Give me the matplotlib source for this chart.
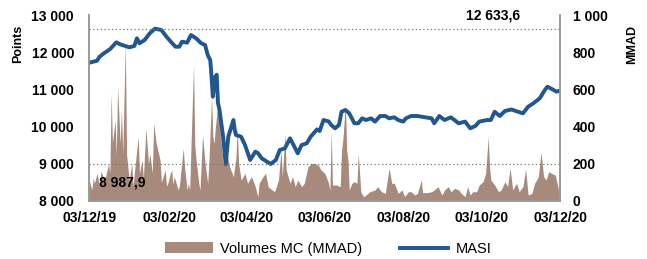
import matplotlib
matplotlib.use("Agg")
import matplotlib.pyplot as plt
import matplotlib.dates as mdates
from matplotlib.ticker import FuncFormatter
import pandas as pd

plt.rcParams['font.family'] = ['Liberation Sans', 'DejaVu Sans']

start = pd.Timestamp('2019-12-03')

# MASI (points) - days since 03/12/19
masi_day = [0, 6, 8, 12, 16, 21, 24, 28, 31, 35, 37, 39, 43, 47, 51, 56, 60, 64,
            67, 70, 72, 76, 79, 83, 87, 90, 92, 94, 95, 96, 98, 99, 100, 101, 104,
            106, 108, 112, 113, 114, 118, 121, 125, 129, 131, 134, 138, 141, 145,
            148, 152, 156, 158, 162, 165, 169, 172, 177, 179, 182, 186, 188, 191,
            194, 196, 199, 202, 206, 209, 212, 215, 219, 222, 226, 230, 233, 237,
            240, 244, 246, 250, 255, 261, 266, 268, 272, 276, 281, 287, 292, 296,
            300, 303, 309, 312, 315, 319, 323, 328, 333, 337, 341, 345, 350, 354,
            356, 360, 363, 366]
masi_val = [11718, 11771, 11879, 11987, 12078, 12266, 12212, 12167, 12132, 12167,
            12374, 12240, 12328, 12508, 12634, 12597, 12417, 12257, 12148, 12148,
            12283, 12257, 12462, 12374, 12240, 12194, 11925, 11790, 11341, 10804,
            11341, 11395, 10626, 10492, 9728, 8988, 9728, 10177, 9909, 9774, 9728,
            9505, 9102, 9325, 9290, 9147, 9057, 8995, 9102, 9371, 9416, 9685, 9551,
            9282, 9505, 9551, 9728, 9925, 9880, 10177, 10140, 10043, 9954, 10043,
            10400, 10446, 10357, 10089, 10089, 10223, 10177, 10223, 10134, 10285,
            10285, 10223, 10250, 10177, 10134, 10223, 10285, 10285, 10250, 10223,
            10089, 10285, 10177, 10250, 10089, 10134, 9954, 10017, 10134, 10177,
            10177, 10400, 10285, 10420, 10460, 10400, 10357, 10535, 10625, 10760,
            10984, 11073, 11000, 10940, 10970]

# Volumes MC (MMAD) - days since 03/12/19
vol_day = [0, 2, 3, 4, 6, 8, 9, 12, 15, 16, 17, 18, 20, 21, 22, 24, 25, 26, 28,
           29, 30, 31, 33, 34, 35, 38, 39, 41, 42, 44, 46, 47, 49, 50, 52, 55, 56,
           59, 60, 61, 63, 64, 65, 66, 69, 70, 73, 74, 76, 77, 78, 81, 82, 83, 85,
           86, 88, 90, 92, 93, 95, 96, 97, 98, 100, 101, 103, 104, 107, 109, 112,
           114, 115, 116, 118, 121, 123, 126, 129, 131, 132, 135, 137, 139, 142,
           144, 147, 149, 150, 152, 153, 156, 158, 160, 162, 165, 167, 170, 173,
           175, 178, 180, 183, 186, 187, 188, 189, 192, 195, 196, 197, 199, 200,
           201, 202, 204, 206, 208, 209, 211, 213, 215, 218, 222, 224, 227, 230,
           233, 235, 237, 240, 243, 245, 248, 250, 253, 255, 258, 259, 263, 266,
           268, 271, 274, 276, 279, 281, 284, 287, 289, 292, 294, 296, 298, 301,
           303, 306, 308, 310, 311, 312, 315, 318, 320, 323, 325, 327, 329, 332,
           334, 337, 339, 341, 344, 346, 349, 351, 353, 355, 357, 359, 362, 365, 366]
vol_val = [110, 59, 124, 95, 149, 77, 160, 110, 200, 150, 579, 312, 435, 250, 615,
           310, 489, 256, 850, 250, 180, 110, 200, 80, 150, 346, 150, 220, 120, 391,
           200, 256, 150, 418, 310, 220, 100, 167, 80, 95, 150, 167, 90, 131, 60, 80,
           283, 185, 60, 95, 60, 735, 300, 220, 100, 59, 355, 200, 95, 220, 561, 346,
           310, 400, 525, 435, 274, 202, 256, 185, 131, 238, 400, 202, 113, 149, 95,
           131, 77, 23, 95, 131, 149, 77, 59, 50, 113, 274, 131, 364, 167, 95, 131,
           77, 113, 77, 95, 185, 202, 202, 193, 167, 149, 95, 59, 382, 86, 86, 77,
           274, 328, 525, 274, 220, 59, 95, 104, 95, 256, 50, 23, 32, 50, 59, 77, 50,
           41, 176, 95, 95, 41, 59, 23, 50, 50, 32, 41, 113, 45, 45, 50, 59, 77, 32,
           59, 77, 50, 68, 59, 41, 23, 77, 32, 50, 50, 86, 104, 149, 346, 185, 113,
           86, 50, 59, 104, 77, 176, 59, 95, 50, 77, 172, 32, 41, 95, 131, 265, 131,
           113, 158, 149, 140, 50, 149]

masi_max = 12633.6
masi_min = 8987.9

x_ticks = ['2019-12-03', '2020-02-03', '2020-04-03', '2020-06-03',
           '2020-08-03', '2020-10-03', '2020-12-03']

masi_dates = start + pd.to_timedelta(masi_day, unit='D')
vol_dates = start + pd.to_timedelta(vol_day, unit='D')


def fmt_space(v, pos=None):
    return '{:,.0f}'.format(v).replace(',', ' ')


fig = plt.figure(figsize=(6.47, 2.59), dpi=100)
ax1 = fig.add_axes([0.138, 0.224, 0.728, 0.718])
ax2 = ax1.twinx()
ax1.set_zorder(ax2.get_zorder() + 1)
ax1.patch.set_visible(False)

brown = '#A88A7D'
blue = '#21568F'
grey = '#9A9A9A'

ax2.fill_between(vol_dates, vol_val, 0, color=brown, lw=0,
                 label='Volumes MC (MMAD)')
ax2.set_ylim(0, 1000)
ax2.set_yticks([0, 200, 400, 600, 800, 1000])

ax1.plot(masi_dates, masi_val, color=blue, lw=2.8, label='MASI',
         solid_joinstyle='round')
ax1.axhline(masi_max, color='#777777', ls=(0, (1, 2)), lw=0.9)
ax1.axhline(masi_min, color='#777777', ls=(0, (1, 2)), lw=0.9)
ax1.set_ylim(8000, 13000)
ax1.set_yticks([8000, 9000, 10000, 11000, 12000, 13000])

ax1.set_xlim(pd.Timestamp(x_ticks[0]), pd.Timestamp(x_ticks[-1]))
ax1.set_xticks([pd.Timestamp(t) for t in x_ticks])
ax1.xaxis.set_major_formatter(mdates.DateFormatter('%d/%m/%y'))

for ax in (ax1, ax2):
    ax.yaxis.set_major_formatter(FuncFormatter(fmt_space))
    ax.spines['top'].set_visible(False)
    for s in ('left', 'right', 'bottom'):
        ax.spines[s].set_color(grey)
        ax.spines[s].set_linewidth(1.2)
    ax.tick_params(length=0, labelsize=10)
    for lab in ax.get_yticklabels() + ax.get_xticklabels():
        lab.set_fontweight('bold')

ax1.tick_params(axis='y', pad=11)
ax2.tick_params(axis='y', pad=9)
ax1.tick_params(axis='x', pad=7)

fig.text(0.028, 0.83, 'Points', rotation=90, ha='center', va='center',
         fontsize=9, fontweight='bold')
fig.text(0.977, 0.83, 'MMAD', rotation=90, ha='center', va='center',
         fontsize=9, fontweight='bold')

ax1.text(pd.Timestamp('2020-10-12'), 13000, '12 633,6', ha='center',
         va='center', fontsize=10, fontweight='bold')
ax1.text(pd.Timestamp('2019-12-29'), masi_min - 500, '8 987,9', ha='center',
         va='center', fontsize=10, fontweight='bold')

h2, l2 = ax2.get_legend_handles_labels()
h1, l1 = ax1.get_legend_handles_labels()
fig.legend(h2 + h1, l2 + l1, loc='center', bbox_to_anchor=(0.507, 0.04),
           ncol=2, frameon=False, fontsize=10.5, handlelength=3.3,
           columnspacing=2.6, handletextpad=0.5)

fig.savefig('out.png', dpi=100)
